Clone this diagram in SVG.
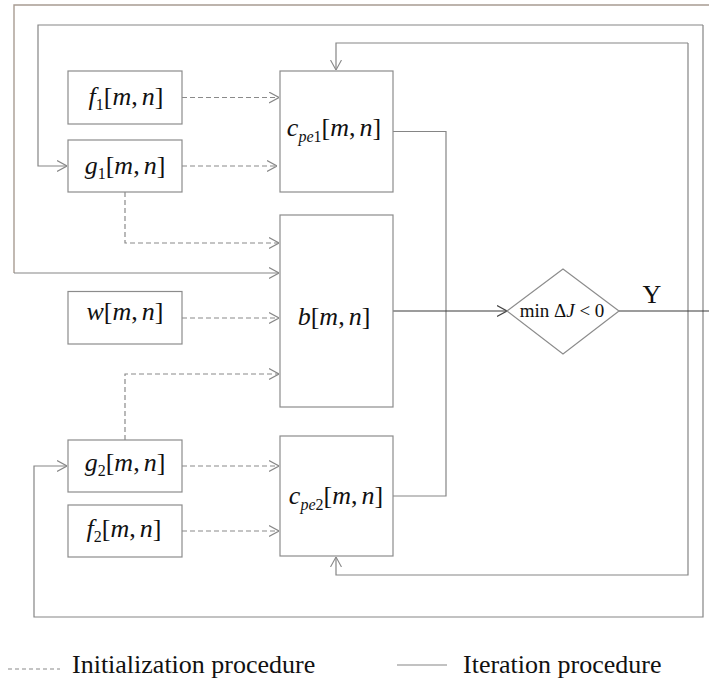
<svg xmlns="http://www.w3.org/2000/svg" width="709" height="681" viewBox="0 0 709 681">
<style>
.box{fill:#fff;stroke:#8c8c8c;stroke-width:1.2}
.sol{fill:none;stroke:#858585;stroke-width:1.2}
.dk{fill:none;stroke:#3a3a3a;stroke-width:1.1}
.top{fill:none;stroke:#a89c92;stroke-width:1.4}
.dash{fill:none;stroke:#8a8a8a;stroke-width:1.2;stroke-dasharray:5,3}
.lbl{font-family:"Liberation Serif","Times New Roman",serif;font-size:26px;fill:#111;text-anchor:middle}
.it{font-style:italic}
.sub{font-size:16px}
.leg{font-family:"Liberation Serif","Times New Roman",serif;font-size:26px;fill:#111}
</style>
<defs>
<marker id="ar" viewBox="0 0 10 12" refX="10" refY="6" markerWidth="10" markerHeight="12" markerUnits="userSpaceOnUse" orient="auto">
<path d="M0,0.5 L10,6 L0,11.5" fill="none" stroke="#888" stroke-width="1.1"/>
</marker>
<marker id="ard" viewBox="0 0 10 12" refX="10" refY="6" markerWidth="10" markerHeight="12" markerUnits="userSpaceOnUse" orient="auto">
<path d="M0,0.5 L10,6 L0,11.5" fill="none" stroke="#444" stroke-width="1.1"/>
</marker>
</defs>
<g id="connectors">
<polyline class="top" points="709,5 14,5 14,273"/>
<polyline class="sol" points="14,273 279,273" marker-end="url(#ar)"/>
<polyline class="sol" points="703,25 38,25 38,166 67,166" marker-end="url(#ar)"/>
<polyline class="sol" points="703,25 703,617 34,617 34,466 67,466" marker-end="url(#ar)"/>
<polyline class="sol" points="688,43 336,43 336,70" marker-end="url(#ar)"/>
<polyline class="sol" points="688,43 688,575 336,575 336,557" marker-end="url(#ar)"/>
<polyline class="sol" points="393,131.5 446,131.5 446,496 393,496"/>
<polyline class="dk" points="393,311 507,311" marker-end="url(#ard)"/>
<polyline class="dk" points="619,311 709,311"/>
<line class="dash" x1="182" y1="97.5" x2="279" y2="97.5" marker-end="url(#ar)"/>
<line class="dash" x1="182" y1="166" x2="277" y2="166" marker-end="url(#ar)"/>
<polyline class="dash" points="125,192 125,243 279,243" marker-end="url(#ar)"/>
<line class="dash" x1="182" y1="318" x2="279" y2="318" marker-end="url(#ar)"/>
<polyline class="dash" points="125,440 125,374 279,374" marker-end="url(#ar)"/>
<line class="dash" x1="182" y1="466" x2="279" y2="466" marker-end="url(#ar)"/>
<line class="dash" x1="182" y1="531" x2="279" y2="531" marker-end="url(#ar)"/>
</g>
<g id="f1">
<rect class="box" x="68" y="71" width="114" height="53"/>
<text class="lbl" x="126" y="105"><tspan class="it">f</tspan><tspan class="sub" dy="5">1</tspan><tspan dy="-5">[</tspan><tspan class="it">m</tspan>,<tspan class="it" dx="4">n</tspan>]</text>
</g>
<g id="g1">
<rect class="box" x="68" y="140" width="114" height="52"/>
<text class="lbl" x="125" y="174"><tspan class="it">g</tspan><tspan class="sub" dy="5">1</tspan><tspan dy="-5">[</tspan><tspan class="it">m</tspan>,<tspan class="it" dx="4">n</tspan>]</text>
</g>
<g id="cpe1">
<rect class="box" x="280" y="71" width="113" height="121"/>
<text class="lbl" x="334" y="136"><tspan class="it">c</tspan><tspan class="sub it" dy="6">pe</tspan><tspan class="sub">1</tspan><tspan dy="-6">[</tspan><tspan class="it">m</tspan>,<tspan class="it" dx="4">n</tspan>]</text>
</g>
<g id="b">
<rect class="box" x="280" y="215" width="113" height="192"/>
<text class="lbl" x="334" y="325"><tspan class="it">b</tspan>[<tspan class="it">m</tspan>,<tspan class="it" dx="4">n</tspan>]</text>
</g>
<g id="w">
<rect class="box" x="68" y="291.5" width="114" height="52.5"/>
<text class="lbl" x="125" y="320"><tspan class="it">w</tspan>[<tspan class="it">m</tspan>,<tspan class="it" dx="4">n</tspan>]</text>
</g>
<g id="g2">
<rect class="box" x="68" y="440" width="114" height="52"/>
<text class="lbl" x="125" y="471"><tspan class="it">g</tspan><tspan class="sub" dy="5">2</tspan><tspan dy="-5">[</tspan><tspan class="it">m</tspan>,<tspan class="it" dx="4">n</tspan>]</text>
</g>
<g id="f2">
<rect class="box" x="68" y="505" width="114" height="52"/>
<text class="lbl" x="124" y="537"><tspan class="it">f</tspan><tspan class="sub" dy="5">2</tspan><tspan dy="-5">[</tspan><tspan class="it">m</tspan>,<tspan class="it" dx="4">n</tspan>]</text>
</g>
<g id="cpe2">
<rect class="box" x="280" y="436" width="113" height="120"/>
<text class="lbl" x="336" y="504"><tspan class="it">c</tspan><tspan class="sub it" dy="6">pe</tspan><tspan class="sub">2</tspan><tspan dy="-6">[</tspan><tspan class="it">m</tspan>,<tspan class="it" dx="4">n</tspan>]</text>
</g>
<g id="decision">
<polygon class="box" points="507,311 563,269 619,311 563,354"/>
<text class="lbl" x="562" y="317" style="font-size:19px">min Δ<tspan class="it">J</tspan> &lt; 0</text>
</g>
<g id="y-label">
<text class="lbl" x="652" y="303">Y</text>
</g>
<g id="legend">
<line class="dash" x1="8" y1="669" x2="60" y2="669" style="stroke-dasharray:4,3"/>
<text class="leg" x="72" y="673">Initialization procedure</text>
<line class="sol" x1="397" y1="665" x2="447" y2="665"/>
<text class="leg" x="463" y="673">Iteration procedure</text>
</g>
</svg>
